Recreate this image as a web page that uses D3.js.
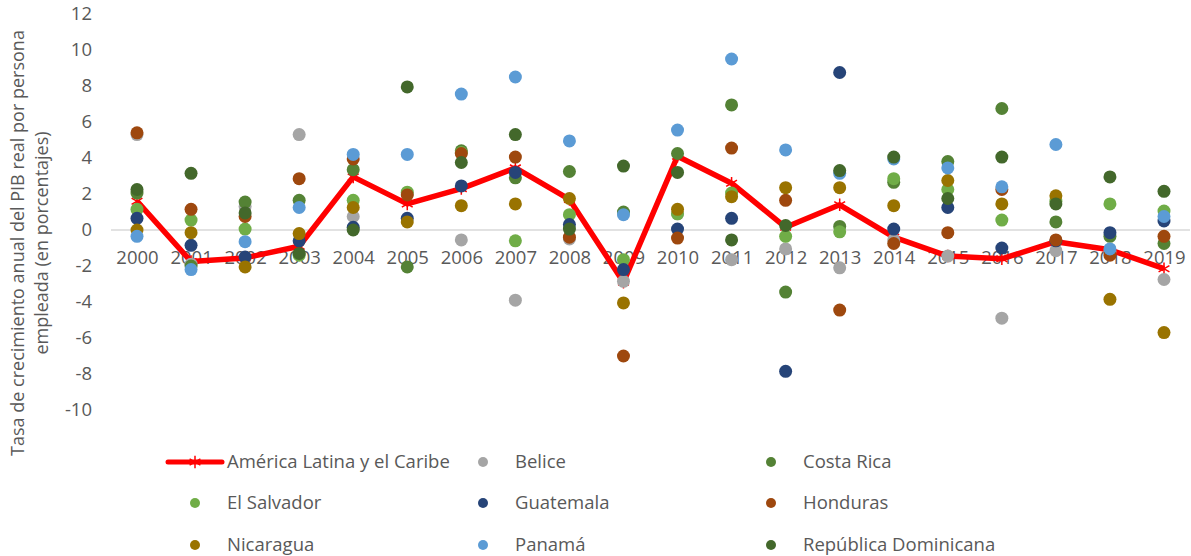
<!DOCTYPE html>
<html><head><meta charset="utf-8">
<script src="https://cdn.jsdelivr.net/npm/d3@7"></script>
<style>
html,body{margin:0;padding:0;background:#fff;}
svg text{font-family:"Open Sans","Noto Sans",sans-serif;fill:#595959;}
</style></head>
<body>
<svg id="chart" width="1191" height="556"></svg>
<script>
const years = ["2000","2001","2002","2003","2004","2005","2006","2007","2008","2009","2010","2011","2012","2013","2014","2015","2016","2017","2018","2019"];
const yTicks = [-10,-8,-6,-4,-2,0,2,4,6,8,10,12];
const alc = [1.6,-1.75,-1.55,-0.9,2.95,1.45,2.3,3.45,1.7,-2.9,4.1,2.6,0.15,1.4,-0.4,-1.45,-1.6,-0.65,-1.1,-2.15];
const belice = [5.3,-1.9,1.3,5.3,0.75,2.0,-0.55,-3.9,-0.5,-2.85,0.9,-1.65,-1.05,-2.1,-0.55,-1.45,-4.9,-1.15,-1.2,-2.75];
const costaRica = [2.05,-2.0,1.55,1.65,3.35,-2.05,4.4,2.9,3.25,1.0,4.25,6.95,-3.45,0.2,2.65,3.8,6.75,0.45,-0.35,-0.75];
const elSalvador = [1.15,0.55,0.05,-1.4,1.65,2.1,4.3,-0.6,0.85,-1.65,0.9,2.05,-0.35,-0.1,2.85,2.25,0.55,1.6,1.45,1.05];
const guatemala = [0.65,-0.85,-1.5,-0.6,0.15,0.65,2.45,3.2,0.3,-2.2,0.05,0.65,-7.85,8.75,0.05,1.25,-1.0,-0.6,-0.15,0.5];
const honduras = [5.4,1.15,0.75,2.85,3.95,1.95,4.25,4.05,-0.4,-7.0,-0.45,4.55,1.65,-4.45,-0.75,-0.15,2.25,-0.55,-1.4,-0.35];
const nicaragua = [0.0,-0.15,-2.05,-0.2,1.25,0.45,1.35,1.45,1.75,-4.05,1.15,1.85,2.35,2.35,1.35,2.75,1.45,1.9,-3.85,-5.7];
const panama = [-0.35,-2.2,-0.65,1.25,4.2,4.2,7.55,8.5,4.95,0.85,5.55,9.5,4.45,3.15,3.95,3.45,2.4,4.75,-1.05,0.75];
const repDom = [2.25,3.15,0.95,-1.3,0.0,7.95,3.75,5.3,0.05,3.55,3.2,-0.55,0.25,3.3,4.05,1.75,4.05,1.45,2.95,2.15];

const lineName = "América Latina y el Caribe";
const lineColor = "#FF0000";
const scatterSeries = [
  {name:"Belice", values:belice, color:"#A5A5A5"},
  {name:"Costa Rica", values:costaRica, color:"#548235"},
  {name:"El Salvador", values:elSalvador, color:"#70AD47"},
  {name:"Guatemala", values:guatemala, color:"#264478"},
  {name:"Honduras", values:honduras, color:"#9E480E"},
  {name:"Nicaragua", values:nicaragua, color:"#997300"},
  {name:"Panamá", values:panama, color:"#5B9BD5"},
  {name:"República Dominicana", values:repDom, color:"#43682B"}
];
const yTitle1 = "Tasa de crecimiento anual del PIB real por persona";
const yTitle2 = "empleada (en porcentajes)";

const FONT = "'Open Sans','Noto Sans',sans-serif";
const svg = d3.select("#chart");
const x = d3.scalePoint().domain(years).range([137,1164]);
const y = d3.scaleLinear().domain([-10,12]).range([410,14]);

// zero gridline
svg.append("line").attr("x1",111).attr("x2",1190).attr("y1",y(0)).attr("y2",y(0))
  .attr("stroke","#D9D9D9").attr("stroke-width",1.5);

// y axis labels
const yAxis = d3.axisLeft(y).tickValues(yTicks).tickSize(0).tickPadding(0).tickFormat(d=>String(d));
const gy = svg.append("g").attr("transform","translate(92,0)").call(yAxis);
gy.select(".domain").remove();
gy.selectAll("text").attr("font-size",18.5).attr("fill","#595959").style("font-family",FONT);

// x axis labels
const xAxis = d3.axisBottom(x).tickSize(0).tickPadding(0);
const gx = svg.append("g").attr("transform","translate(0,247)").call(xAxis);
gx.select(".domain").remove();
gx.selectAll("text").attr("font-size",18.5).attr("fill","#595959").attr("dy","0.35em").attr("y",11)
  .style("font-family",FONT);

// y title
const tg = svg.append("g");
tg.append("text").attr("transform","translate(18,243) rotate(-90)").attr("text-anchor","middle")
  .attr("dy","0.35em").attr("font-size",18).text(yTitle1);
tg.append("text").attr("transform","translate(42,243) rotate(-90)").attr("text-anchor","middle")
  .attr("dy","0.35em").attr("font-size",18).text(yTitle2);

// ALC line
const line = d3.line().x((d,i)=>x(years[i])).y(d=>y(d));
svg.append("path").datum(alc).attr("d",line).attr("fill","none")
  .attr("stroke",lineColor).attr("stroke-width",5.5).attr("stroke-linejoin","round");
const star = d3.symbol().type(d3.symbolAsterisk).size(110);
svg.append("g").selectAll("path").data(alc).join("path")
  .attr("d",star).attr("transform",(d,i)=>`translate(${x(years[i])},${y(d)})`)
  .attr("fill","none").attr("stroke",lineColor).attr("stroke-width",1.5);

// scatter points
scatterSeries.forEach(s=>{
  svg.append("g").selectAll("circle").data(s.values).join("circle")
    .attr("cx",(d,i)=>x(years[i])).attr("cy",d=>y(d)).attr("r",6.5).attr("fill",s.color);
});

// legend
const legendItems = [{name:lineName,color:lineColor,line:true}].concat(scatterSeries);
const colX = [227,515,803];
const rowY = [462,503,545];
const lg = svg.append("g");
legendItems.forEach((it,k)=>{
  const c = k%3, r = Math.floor(k/3);
  const tx = colX[c], ty = rowY[r];
  const mx = tx - 32;
  if(it.line){
    lg.append("line").attr("x1",168).attr("x2",222).attr("y1",ty).attr("y2",ty)
      .attr("stroke",it.color).attr("stroke-width",5).attr("stroke-linecap","round");
    lg.append("path").attr("d",star).attr("transform",`translate(${mx},${ty})`)
      .attr("fill","none").attr("stroke",it.color).attr("stroke-width",1.5);
  } else {
    lg.append("circle").attr("cx",mx).attr("cy",ty).attr("r",5).attr("fill",it.color);
  }
  lg.append("text").attr("x",tx).attr("y",ty).attr("dy","0.35em").attr("font-size",18.5).text(it.name);
});
</script>
</body></html>
